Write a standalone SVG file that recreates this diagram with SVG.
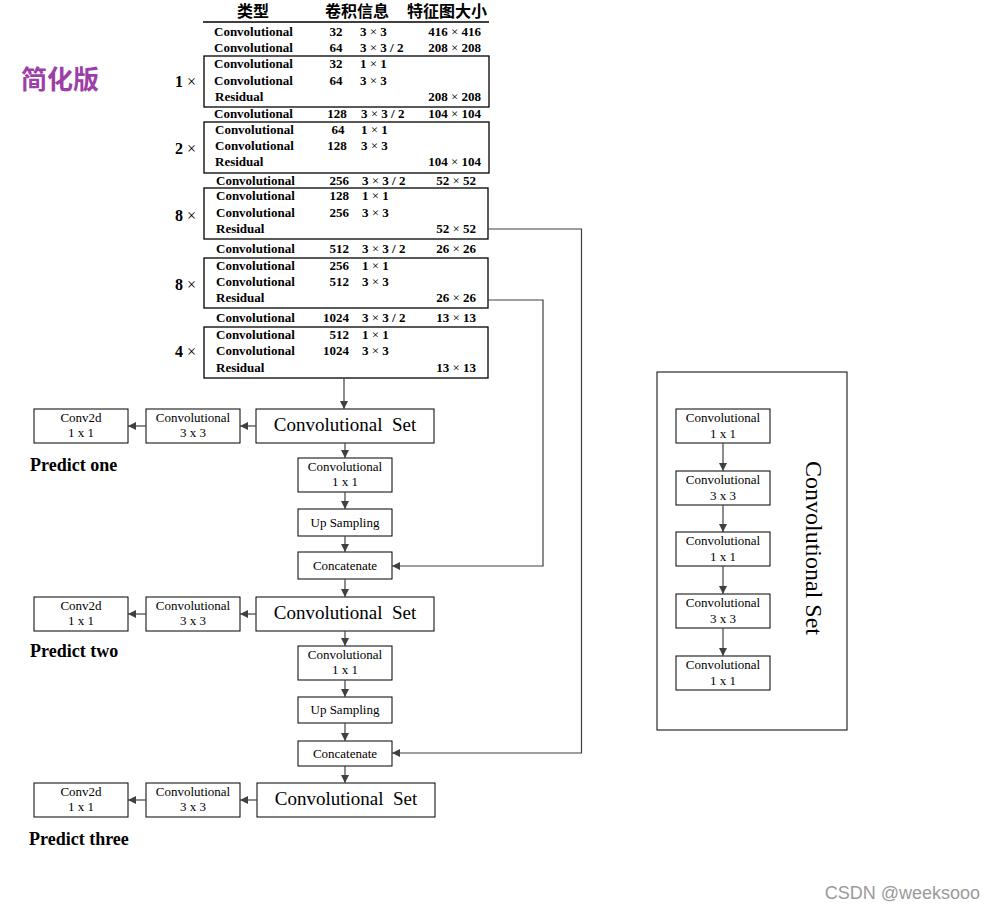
<svg xmlns="http://www.w3.org/2000/svg" width="995" height="909" viewBox="0 0 995 909">
<style>
.bg{fill:#fff}
.box{fill:#fff;stroke:#000;stroke-width:1}
.tb{fill:none;stroke:#000;stroke-width:1.3}
.conn{fill:none;stroke:#404040;stroke-width:1.2}
.t{font-family:"Liberation Serif",serif;font-size:13px;text-anchor:middle;fill:#000}
.big{font-family:"Liberation Serif",serif;font-size:19px;text-anchor:middle;fill:#000}
.r{font-family:"Liberation Serif",serif;font-size:13px;font-weight:bold;fill:#000}
.n1{text-anchor:middle}
.n2{text-anchor:end}
.o{text-anchor:end}
.x{font-weight:normal}
.rep{font-family:"Liberation Serif",serif;font-size:16px;font-weight:bold;text-anchor:end;fill:#000}
.hd{font-family:"Liberation Serif","Noto Sans CJK SC",serif;font-size:16px;font-weight:bold;text-anchor:middle;fill:#000}
.pred{font-family:"Liberation Serif",serif;font-size:18px;font-weight:bold;fill:#000}
</style>
<defs>
<marker id="ah" viewBox="0 0 10 10" refX="10" refY="5" markerUnits="userSpaceOnUse" markerWidth="9" markerHeight="8" orient="auto">
<path d="M0,0 L10,5 L0,10 z" fill="#404040"/>
</marker>
</defs>
<rect class="bg" x="0" y="0" width="995" height="909"/>

<text x="21" y="89" style="font-family:'Noto Sans CJK SC',sans-serif;font-size:26px;font-weight:bold;fill:#9c40a8">简化版</text>

<g id="backbone">
<text class="hd" x="253" y="17">类型</text>
<text class="hd" x="357" y="17">卷积信息</text>
<text class="hd" x="447" y="17">特征图大小</text>
<line x1="203" y1="22" x2="489" y2="22" stroke="#000" stroke-width="1.5"/>

<text class="r" x="214" y="36">Convolutional</text><text class="r n1" x="336" y="36">32</text><text class="r" x="360" y="36">3 <tspan class="x">×</tspan> 3</text><text class="r o" x="481" y="36">416 <tspan class="x">×</tspan> 416</text>
<text class="r" x="214" y="52">Convolutional</text><text class="r n1" x="336" y="52">64</text><text class="r" x="360" y="52">3 <tspan class="x">×</tspan> 3 / 2</text><text class="r o" x="481" y="52">208 <tspan class="x">×</tspan> 208</text>

<g id="block1">
<rect class="tb" x="204" y="56" width="285" height="51"/>
<text class="rep" x="196" y="87">1 <tspan class="x">×</tspan></text>
<text class="r" x="214" y="68">Convolutional</text><text class="r n1" x="336" y="68">32</text><text class="r" x="360" y="68">1 <tspan class="x">×</tspan> 1</text>
<text class="r" x="214" y="85">Convolutional</text><text class="r n1" x="336" y="85">64</text><text class="r" x="360" y="85">3 <tspan class="x">×</tspan> 3</text>
<text class="r" x="215" y="101">Residual</text><text class="r o" x="481" y="101">208 <tspan class="x">×</tspan> 208</text>
</g>

<text class="r" x="214" y="118">Convolutional</text><text class="r n1" x="337" y="118">128</text><text class="r" x="361" y="118">3 <tspan class="x">×</tspan> 3 / 2</text><text class="r o" x="481" y="118">104 <tspan class="x">×</tspan> 104</text>

<g id="block2">
<rect class="tb" x="204" y="122" width="285" height="51"/>
<text class="rep" x="196" y="154">2 <tspan class="x">×</tspan></text>
<text class="r" x="215" y="134">Convolutional</text><text class="r n1" x="338" y="134">64</text><text class="r" x="361" y="134">1 <tspan class="x">×</tspan> 1</text>
<text class="r" x="215" y="150">Convolutional</text><text class="r n1" x="337" y="150">128</text><text class="r" x="361" y="150">3 <tspan class="x">×</tspan> 3</text>
<text class="r" x="215" y="166">Residual</text><text class="r o" x="481" y="166">104 <tspan class="x">×</tspan> 104</text>
</g>

<text class="r" x="216" y="185">Convolutional</text><text class="r n2" x="349" y="185">256</text><text class="r" x="362" y="185">3 <tspan class="x">×</tspan> 3 / 2</text><text class="r o" x="476" y="185">52 <tspan class="x">×</tspan> 52</text>

<g id="block3">
<rect class="tb" x="204" y="188" width="284" height="51"/>
<text class="rep" x="196" y="221">8 <tspan class="x">×</tspan></text>
<text class="r" x="216" y="200">Convolutional</text><text class="r n2" x="349" y="200">128</text><text class="r" x="362" y="200">1 <tspan class="x">×</tspan> 1</text>
<text class="r" x="216" y="217">Convolutional</text><text class="r n2" x="349" y="217">256</text><text class="r" x="362" y="217">3 <tspan class="x">×</tspan> 3</text>
<text class="r" x="216" y="233">Residual</text><text class="r o" x="476" y="233">52 <tspan class="x">×</tspan> 52</text>
</g>

<text class="r" x="216" y="253">Convolutional</text><text class="r n2" x="349" y="253">512</text><text class="r" x="362" y="253">3 <tspan class="x">×</tspan> 3 / 2</text><text class="r o" x="476" y="253">26 <tspan class="x">×</tspan> 26</text>

<g id="block4">
<rect class="tb" x="204" y="258" width="284" height="50"/>
<text class="rep" x="196" y="290">8 <tspan class="x">×</tspan></text>
<text class="r" x="216" y="270">Convolutional</text><text class="r n2" x="349" y="270">256</text><text class="r" x="362" y="270">1 <tspan class="x">×</tspan> 1</text>
<text class="r" x="216" y="286">Convolutional</text><text class="r n2" x="349" y="286">512</text><text class="r" x="362" y="286">3 <tspan class="x">×</tspan> 3</text>
<text class="r" x="216" y="302">Residual</text><text class="r o" x="476" y="302">26 <tspan class="x">×</tspan> 26</text>
</g>

<text class="r" x="216" y="322">Convolutional</text><text class="r n2" x="349" y="322">1024</text><text class="r" x="362" y="322">3 <tspan class="x">×</tspan> 3 / 2</text><text class="r o" x="476" y="322">13 <tspan class="x">×</tspan> 13</text>

<g id="block5">
<rect class="tb" x="204" y="327" width="284" height="51"/>
<text class="rep" x="196" y="357">4 <tspan class="x">×</tspan></text>
<text class="r" x="216" y="339">Convolutional</text><text class="r n2" x="349" y="339">512</text><text class="r" x="362" y="339">1 <tspan class="x">×</tspan> 1</text>
<text class="r" x="216" y="355">Convolutional</text><text class="r n2" x="349" y="355">1024</text><text class="r" x="362" y="355">3 <tspan class="x">×</tspan> 3</text>
<text class="r" x="216" y="372">Residual</text><text class="r o" x="476" y="372">13 <tspan class="x">×</tspan> 13</text>
</g>
</g>

<g id="set1"><rect class="box" x="256" y="409" width="178" height="34"/><text class="big" x="345" y="431">Convolutional&#160; Set</text></g>
<g id="conv3x3-1"><rect class="box" x="146" y="409" width="94" height="34"/><text class="t" x="193" y="422">Convolutional</text><text class="t" x="193" y="437">3 x 3</text></g>
<g id="conv2d-1"><rect class="box" x="34" y="409" width="94" height="34"/><text class="t" x="81" y="422">Conv2d</text><text class="t" x="81" y="437">1 x 1</text></g>
<text class="pred" x="30" y="471">Predict one</text>
<g id="conv1x1-1"><rect class="box" x="298" y="458" width="94" height="34"/><text class="t" x="345" y="471">Convolutional</text><text class="t" x="345" y="486">1 x 1</text></g>
<g id="up-1"><rect class="box" x="298" y="509" width="94" height="27"/><text class="t" x="345" y="527">Up Sampling</text></g>
<g id="concat-1"><rect class="box" x="298" y="552" width="94" height="27"/><text class="t" x="345" y="570">Concatenate</text></g>

<g id="set2"><rect class="box" x="256" y="597" width="178" height="34"/><text class="big" x="345" y="619">Convolutional&#160; Set</text></g>
<g id="conv3x3-2"><rect class="box" x="146" y="597" width="94" height="34"/><text class="t" x="193" y="610">Convolutional</text><text class="t" x="193" y="625">3 x 3</text></g>
<g id="conv2d-2"><rect class="box" x="34" y="597" width="94" height="34"/><text class="t" x="81" y="610">Conv2d</text><text class="t" x="81" y="625">1 x 1</text></g>
<text class="pred" x="30" y="657">Predict two</text>
<g id="conv1x1-2"><rect class="box" x="298" y="646" width="94" height="34"/><text class="t" x="345" y="659">Convolutional</text><text class="t" x="345" y="674">1 x 1</text></g>
<g id="up-2"><rect class="box" x="298" y="697" width="94" height="26"/><text class="t" x="345" y="714">Up Sampling</text></g>
<g id="concat-2"><rect class="box" x="298" y="741" width="94" height="25"/><text class="t" x="345" y="758">Concatenate</text></g>

<g id="set3"><rect class="box" x="257" y="783" width="178" height="34"/><text class="big" x="346" y="805">Convolutional&#160; Set</text></g>
<g id="conv3x3-3"><rect class="box" x="146" y="783" width="94" height="34"/><text class="t" x="193" y="796">Convolutional</text><text class="t" x="193" y="811">3 x 3</text></g>
<g id="conv2d-3"><rect class="box" x="34" y="783" width="94" height="34"/><text class="t" x="81" y="796">Conv2d</text><text class="t" x="81" y="811">1 x 1</text></g>
<text class="pred" x="29" y="845">Predict three</text>

<g id="convset-detail">
<rect class="box" x="657" y="372" width="190" height="358" fill="none"/>
<g id="cs1"><rect class="box" x="676" y="409" width="94" height="34"/><text class="t" x="723" y="422">Convolutional</text><text class="t" x="723" y="438">1 x 1</text></g>
<g id="cs2"><rect class="box" x="676" y="471" width="94" height="34"/><text class="t" x="723" y="484">Convolutional</text><text class="t" x="723" y="500">3 x 3</text></g>
<g id="cs3"><rect class="box" x="676" y="532" width="94" height="34"/><text class="t" x="723" y="545">Convolutional</text><text class="t" x="723" y="561">1 x 1</text></g>
<g id="cs4"><rect class="box" x="676" y="594" width="94" height="34"/><text class="t" x="723" y="607">Convolutional</text><text class="t" x="723" y="623">3 x 3</text></g>
<g id="cs5"><rect class="box" x="676" y="656" width="94" height="34"/><text class="t" x="723" y="669">Convolutional</text><text class="t" x="723" y="685">1 x 1</text></g>
<text transform="translate(806,548) rotate(90)" style="font-family:'Liberation Serif',serif;font-size:24px;text-anchor:middle;fill:#000">Convolutional Set</text>
</g>

<g id="connectors">
<line class="conn" x1="344" y1="378" x2="344" y2="409" marker-end="url(#ah)"/>
<line class="conn" x1="256" y1="426" x2="240" y2="426" marker-end="url(#ah)"/>
<line class="conn" x1="146" y1="426" x2="128" y2="426" marker-end="url(#ah)"/>
<line class="conn" x1="345" y1="443" x2="345" y2="458" marker-end="url(#ah)"/>
<line class="conn" x1="345" y1="492" x2="345" y2="509" marker-end="url(#ah)"/>
<line class="conn" x1="345" y1="536" x2="345" y2="552" marker-end="url(#ah)"/>
<line class="conn" x1="345" y1="579" x2="345" y2="597" marker-end="url(#ah)"/>
<line class="conn" x1="256" y1="614" x2="240" y2="614" marker-end="url(#ah)"/>
<line class="conn" x1="146" y1="614" x2="128" y2="614" marker-end="url(#ah)"/>
<line class="conn" x1="345" y1="631" x2="345" y2="646" marker-end="url(#ah)"/>
<line class="conn" x1="345" y1="680" x2="345" y2="697" marker-end="url(#ah)"/>
<line class="conn" x1="345" y1="723" x2="345" y2="741" marker-end="url(#ah)"/>
<line class="conn" x1="345" y1="766" x2="345" y2="783" marker-end="url(#ah)"/>
<line class="conn" x1="257" y1="800" x2="240" y2="800" marker-end="url(#ah)"/>
<line class="conn" x1="146" y1="800" x2="128" y2="800" marker-end="url(#ah)"/>
<polyline class="conn" points="488,300 543,300 543,566 392,566" marker-end="url(#ah)"/>
<polyline class="conn" points="488,229 581.5,229 581.5,753 392,753" marker-end="url(#ah)"/>
<line class="conn" x1="723" y1="443" x2="723" y2="471" marker-end="url(#ah)"/>
<line class="conn" x1="723" y1="505" x2="723" y2="532" marker-end="url(#ah)"/>
<line class="conn" x1="723" y1="566" x2="723" y2="594" marker-end="url(#ah)"/>
<line class="conn" x1="723" y1="628" x2="723" y2="656" marker-end="url(#ah)"/>
</g>

<text x="980" y="899" style="font-family:'Liberation Sans',sans-serif;font-size:18px;text-anchor:end;fill:#9a9a9a">CSDN @weeksooo</text>
</svg>
